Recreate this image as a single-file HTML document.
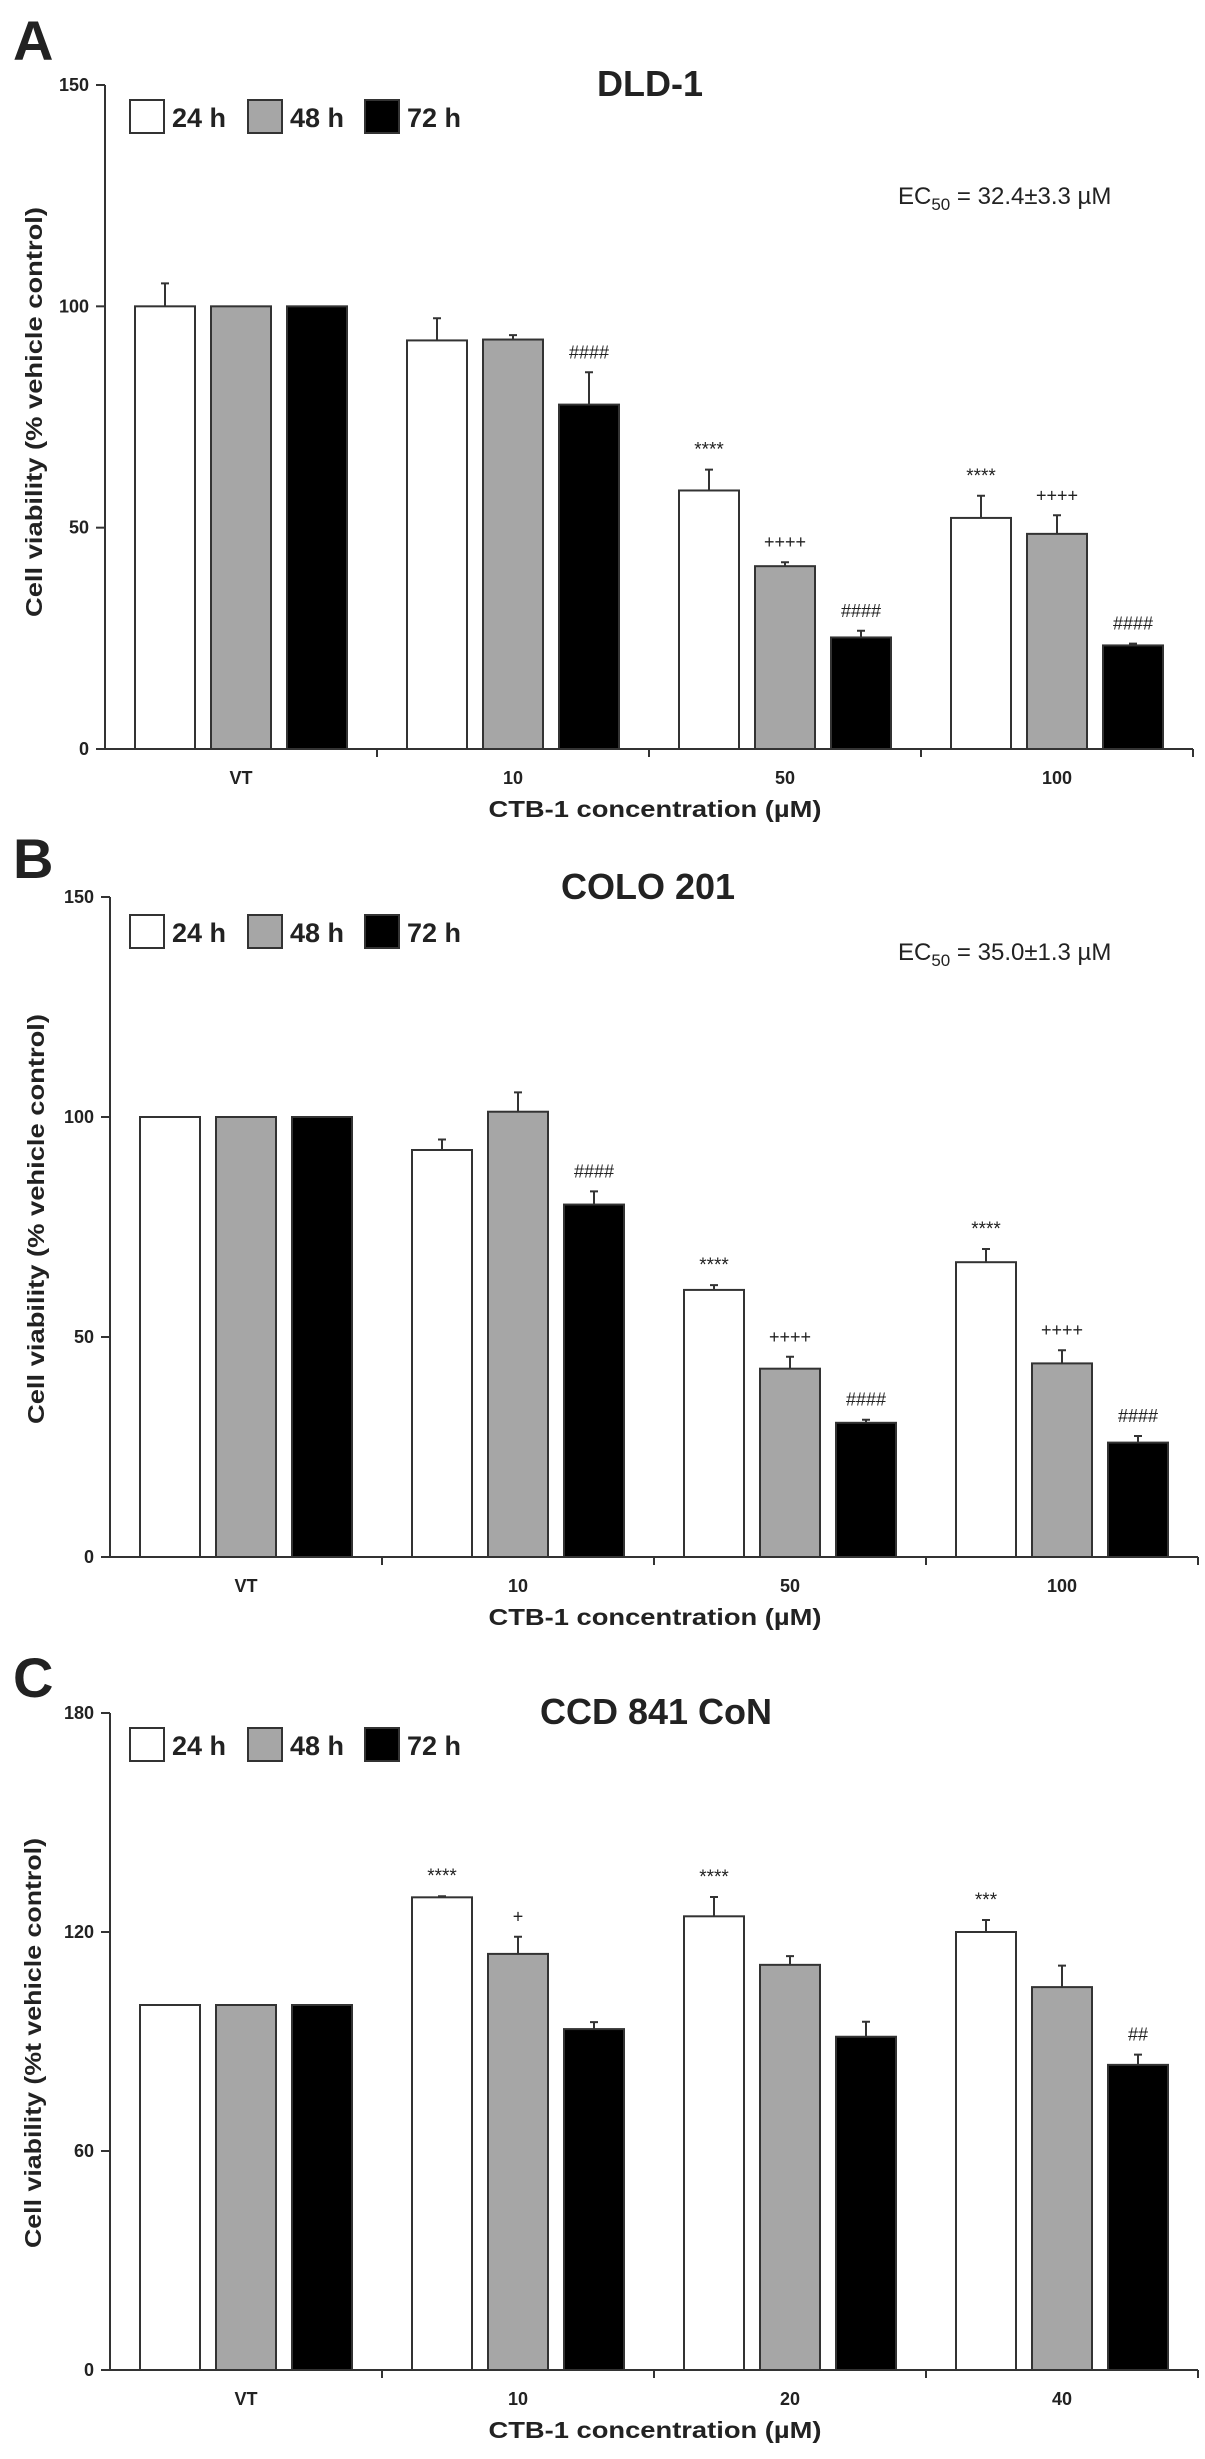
<!DOCTYPE html>
<html>
<head>
<meta charset="utf-8">
<style>
html,body{margin:0;padding:0;background:#fff;}
svg{display:block;}
text{font-family:"Liberation Sans",Arial,sans-serif;fill:#222;}
</style>
</head>
<body>
<svg id="fig" width="1205" height="2459" viewBox="0 0 1205 2459" xmlns="http://www.w3.org/2000/svg"></svg>
<script>
// ---- Data ----
const seriesNames = ["24 h", "48 h", "72 h"];
const catsA = ["VT", "10", "50", "100"];
const a24 = [100, 92.3, 58.4, 52.2];
const a48 = [100, 92.5, 41.3, 48.6];
const a72 = [100, 77.8, 25.2, 23.4];
const a24err = [105.2, 97.3, 63.1, 57.2];
const a48err = [100, 93.5, 42.2, 52.8];
const a72err = [100, 85.1, 26.7, 23.8];
const a24sig = ["", "", "****", "****"];
const a48sig = ["", "", "++++", "++++"];
const a72sig = ["", "####", "####", "####"];
const ticksA = [0, 50, 100, 150];

const catsB = ["VT", "10", "50", "100"];
const b24 = [100, 92.5, 60.7, 67];
const b48 = [100, 101.2, 42.8, 44];
const b72 = [100, 80.1, 30.5, 26];
const b24err = [100, 94.9, 61.8, 70];
const b48err = [100, 105.6, 45.5, 47];
const b72err = [100, 83.1, 31.2, 27.5];
const b24sig = ["", "", "****", "****"];
const b48sig = ["", "", "++++", "++++"];
const b72sig = ["", "####", "####", "####"];
const ticksB = [0, 50, 100, 150];

const catsC = ["VT", "10", "20", "40"];
const c24 = [100, 129.5, 124.3, 120];
const c48 = [100, 114, 111, 104.9];
const c72 = [100, 93.4, 91.3, 83.6];
const c24err = [100, 129.8, 129.6, 123.3];
const c48err = [100, 118.7, 113.4, 110.8];
const c72err = [100, 95.3, 95.4, 86.4];
const c24sig = ["", "****", "****", "***"];
const c48sig = ["", "+", "", ""];
const c72sig = ["", "", "", "##"];
const ticksC = [0, 60, 120, 180];

// ---- Rendering ----
const NS = "http://www.w3.org/2000/svg";
const svg = document.getElementById("fig");
const fills = ["#ffffff", "#a6a6a6", "#000000"];
function mk(tag, attrs, parent) {
  const e = document.createElementNS(NS, tag);
  for (const k in attrs) e.setAttribute(k, attrs[k]);
  (parent || svg).appendChild(e);
  return e;
}

function panel(cfg) {
  const g = mk("g", {});
  
  
  const x0 = cfg.x0, groupW = 272, yBase = cfg.y0, yTop = cfg.yTop, yMax = cfg.ymax;
  const yScale = v => yBase - (v / yMax) * (yBase - yTop);
  const xEnd = x0 + groupW * cfg.cats.length;

  // panel letter
  const L = mk("text", {x: 13, y: cfg.letterY, "font-size": 56, "font-weight": "bold", fill: "#111"}, g);
  L.textContent = cfg.letter;
  
  
  // title
  const T = mk("text", {x: cfg.titleX, y: cfg.titleY, "font-size": 36, "font-weight": "bold", "text-anchor": "middle", fill: "#111"}, g);
  T.textContent = cfg.title;
  
  

  // axes
  const ya = mk("line", {x1: x0, y1: yTop, x2: x0, y2: yBase, stroke: "#333", "stroke-width": 2}, g);
  
  
  const xa = mk("line", {x1: x0 - 9, y1: yBase, x2: xEnd, y2: yBase, stroke: "#333", "stroke-width": 2}, g);
  
  

  cfg.ticks.forEach(t => {
    const y = yScale(t);
    const tl = mk("line", {x1: x0 - 9, y1: y, x2: x0, y2: y, stroke: "#333", "stroke-width": 2}, g);
    
    
    const tx = mk("text", {x: x0 - 16, y: y + 6, "font-size": 18, "font-weight": "bold", "text-anchor": "end"}, g);
    tx.textContent = t;
    
    
  });
  for (let i = 1; i <= cfg.cats.length; i++) {
    const x = x0 + groupW * i;
    const sep = mk("line", {x1: x, y1: yBase, x2: x, y2: yBase + 8, stroke: "#333", "stroke-width": 2}, g);
    
    
  }

  // bars
  cfg.cats.forEach((c, i) => {
    const gx = x0 + groupW * i;
    for (let s = 0; s < 3; s++) {
      const v = cfg.vals[s][i], ev = cfg.errs[s][i];
      const bx = gx + 30 + s * 76, bw = 60;
      const yt = yScale(v);
      const r = mk("rect", {x: bx, y: yt, width: bw, height: yBase - yt, fill: fills[s], stroke: "#333", "stroke-width": 2}, g);
      
      
      const ye = yScale(ev);
      const cx = bx + bw / 2;
      if (ev > v) {
        const el = mk("path", {d: `M${cx},${yt} V${ye} M${cx - 4},${ye} H${cx + 4}`, stroke: "#333", "stroke-width": 2, fill: "none"}, g);
        
        
      }
      const sig = cfg.sigs[s][i];
      if (sig) {
        const st = mk("text", {x: cx, y: Math.min(ye, yt) - 14, "font-size": sig.indexOf('*') >= 0 ? 19 : 18, "text-anchor": "middle", fill: "#333"}, g);
        st.textContent = sig;
        
        
      }
    }
    const cl = mk("text", {x: gx + groupW / 2, y: yBase + 35, "font-size": 18, "font-weight": "bold", "text-anchor": "middle"}, g);
    cl.textContent = c;
    
    
  });

  // legend
  const lx = [130, 248, 365];
  for (let s = 0; s < 3; s++) {
    const lr = mk("rect", {x: lx[s], y: cfg.legY, width: 34, height: 33, fill: fills[s], stroke: "#333", "stroke-width": 2}, g);
    
    
    const lt = mk("text", {x: lx[s] + 42, y: cfg.legY + 27, "font-size": 27, "font-weight": "bold", fill: "#111"}, g);
    lt.textContent = seriesNames[s];
    
    
  }

  // EC50
  if (cfg.ec) {
    const et = mk("text", {x: 898, y: cfg.ecY, "font-size": 24, fill: "#111"}, g);
    
    
    et.innerHTML = 'EC<tspan font-size="17" dy="6">50</tspan><tspan dy="-6"> = ' + cfg.ec + '</tspan>';
  }

  // axis titles
  const yt = mk("text", {x: 0, y: 0, "font-size": 23, "font-weight": "bold", "text-anchor": "middle", fill: "#111",
    transform: `translate(${cfg.ytX},${cfg.ytY}) rotate(-90)`, textLength: 410, lengthAdjust: "spacingAndGlyphs"}, g);
  yt.textContent = cfg.ytitle;
  
  
  const xt = mk("text", {x: 655, y: yBase + 68, "font-size": 23, "font-weight": "bold", "text-anchor": "middle", fill: "#111",
    textLength: 333, lengthAdjust: "spacingAndGlyphs"}, g);
  xt.textContent = "CTB-1  concentration (\u00b5M)";
  
  
}

panel({id: "a", letter: "A", letterY: 60, title: "DLD-1", titleX: 650, titleY: 96,
  x0: 105, y0: 749, yTop: 85, ymax: 150, ticks: ticksA, cats: catsA,
  vals: [a24, a48, a72], errs: [a24err, a48err, a72err], sigs: [a24sig, a48sig, a72sig],
  legY: 100, ec: "32.4\u00b13.3 \u00b5M", ecY: 204, ytitle: "Cell viability (% vehicle control)", ytX: 42, ytY: 412});

panel({id: "b", letter: "B", letterY: 878, title: "COLO 201", titleX: 648, titleY: 899,
  x0: 110, y0: 1557, yTop: 897, ymax: 150, ticks: ticksB, cats: catsB,
  vals: [b24, b48, b72], errs: [b24err, b48err, b72err], sigs: [b24sig, b48sig, b72sig],
  legY: 915, ec: "35.0\u00b11.3 \u00b5M", ecY: 960, ytitle: "Cell viability (% vehicle control)", ytX: 44, ytY: 1219});

panel({id: "c", letter: "C", letterY: 1697, title: "CCD 841 CoN", titleX: 656, titleY: 1724,
  x0: 110, y0: 2370, yTop: 1713, ymax: 180, ticks: ticksC, cats: catsC,
  vals: [c24, c48, c72], errs: [c24err, c48err, c72err], sigs: [c24sig, c48sig, c72sig],
  legY: 1728, ec: null, ytitle: "Cell viability (%t vehicle control)", ytX: 41, ytY: 2043});
</script>
</body>
</html>
